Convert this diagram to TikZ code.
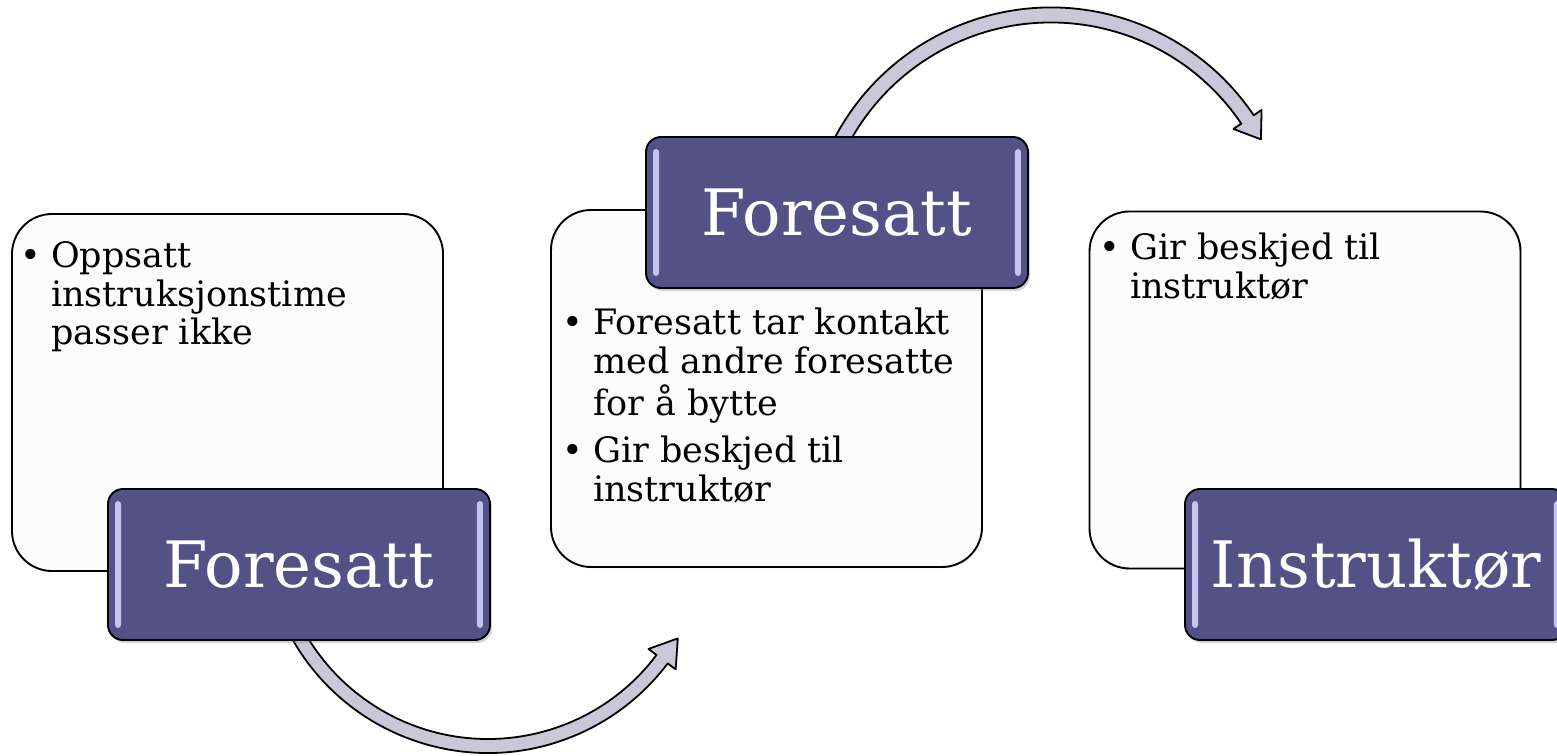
\documentclass[tikz,border=0pt]{standalone}
\usepackage{fontspec}
\setmainfont{DejaVu Serif}
\usetikzlibrary{calc,shadows}
\definecolor{etikettblaa}{RGB}{82,82,135}
\definecolor{stripe}{RGB}{196,196,240}
\definecolor{pilfyll}{RGB}{200,200,216}
\definecolor{boksfyll}{RGB}{252,252,252}
\tikzset{
	hvitboks/.style={draw=black,line width=1.9pt,fill=boksfyll,rounded corners=40pt,minimum width=431pt,minimum height=357pt,drop shadow={opacity=.15,shadow xshift=1pt,shadow yshift=-1.5pt}},
	etikett/.style={draw=black,line width=1.9pt,fill=etikettblaa,rounded corners=15pt,minimum width=382pt,minimum height=151pt,text=white,font=\fontsize{64}{70}\selectfont,drop shadow={opacity=.35,shadow xshift=2pt,shadow yshift=-3pt}},
	pil/.style={draw=black,line width=1.8pt,fill=pilfyll,line join=round},
	punkttekst/.style={anchor=base west,inner sep=0pt,font=\fontsize{35}{38.5}\selectfont}
}
\newcommand{\kule}{\makebox[31pt][l]{\textbullet}}
\begin{document}
\begin{tikzpicture}[x=1pt,y=1pt]
		\useasboundingbox (0,0) rectangle (1557,755);
		% hvite bokser
		\node[hvitboks] (b1) at (227.5,362.5) {};
		\node[hvitboks] (b2) at (766.5,366.5) {};
		\node[hvitboks] (b3) at (1305,365) {};
		\node[punkttekst] (t1) at (20,487) {\begin{tabular}[t]{@{}l@{}l@{}}\kule&Oppsatt\\&instruksjonstime\\&passer ikke\end{tabular}};
		\node[punkttekst] (t2) at (562,420) {\begin{tabular}[t]{@{}l@{}l@{}}\kule&Foresatt tar kontakt\\&med andre foresatte\\&for å bytte\\[8.5pt]\kule&Gir beskjed til\\&instruktør\end{tabular}};
		\node[punkttekst] (t3) at (1099,495) {\begin{tabular}[t]{@{}l@{}l@{}}\kule&Gir beskjed til\\&instruktør\end{tabular}};
		% piler
		\coordinate (m1) at (488,227);
		\coordinate (m2) at (1051,503);
		\filldraw[pil] ($(m1)+(205:225)$) arc[start angle=205,end angle=323,radius=225] -- ($(m1)+(323:235)$) -- ($(m1)+(323:218)+(53:26)$) -- ($(m1)+(323:201)$) -- ($(m1)+(323:211)$) arc[start angle=323,end angle=205,radius=211] -- cycle;
		\filldraw[pil] ($(m2)+(160:244.5)$) arc[start angle=160,end angle=34,radius=244.5] -- ($(m2)+(34:254)$) -- ($(m2)+(34:237)+(-56:24)$) -- ($(m2)+(34:220)$) -- ($(m2)+(34:229.5)$) arc[start angle=34,end angle=160,radius=229.5] -- cycle;
		% etiketter
		\node[etikett] (e1) at (299,190.5) {Foresatt};
		\node[etikett] (e2) at (837,542.5) {Foresatt};
		\node[etikett] (e3) at (1376,190.5) {Instruktør};
		\foreach \e in {e1,e2,e3}{
			\fill[stripe,rounded corners=3pt] ($(\e.north west)+(8,-13)$) rectangle ($(\e.south west)+(14,13)$);
			\fill[stripe,rounded corners=3pt] ($(\e.north east)+(-14,-13)$) rectangle ($(\e.south east)+(-8,13)$);
		}
	\end{tikzpicture}
\end{document}
